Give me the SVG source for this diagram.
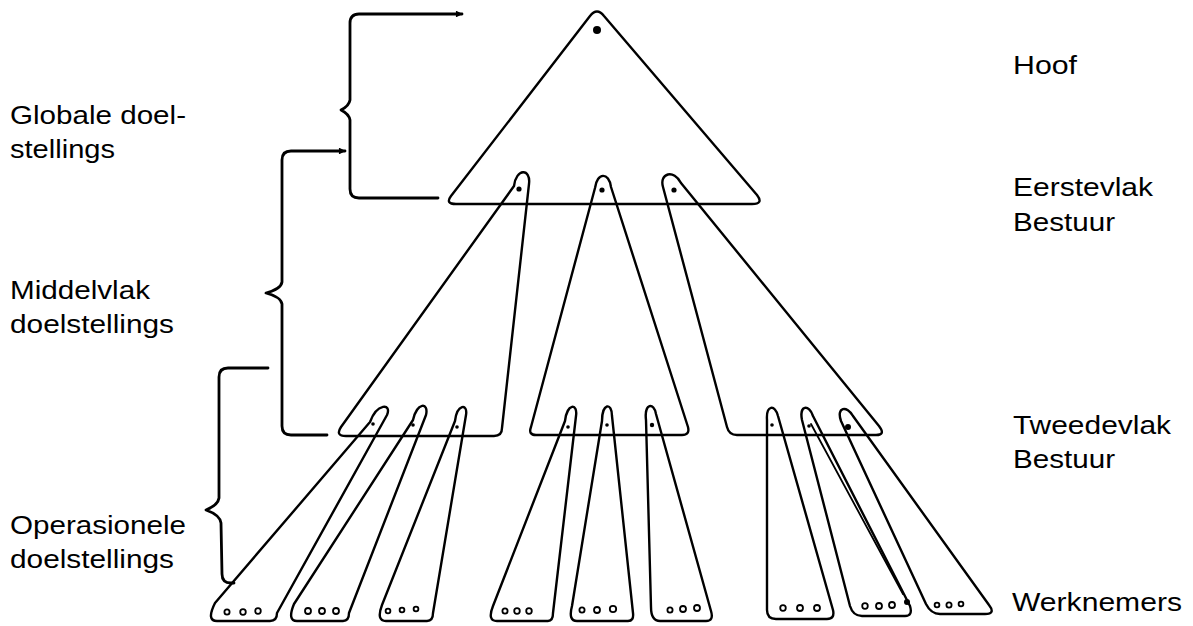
<svg xmlns="http://www.w3.org/2000/svg" width="1193" height="626" viewBox="0 0 1193 626">
<style>
.shape{fill:none;stroke:#000;stroke-width:2.4;stroke-linejoin:round;stroke-linecap:round}
.brace{fill:none;stroke:#000;stroke-width:2.8;stroke-linejoin:round;stroke-linecap:round}
.dot{fill:#000}
.ring{fill:none;stroke:#000;stroke-width:1.8}
.lbl{font-family:"Liberation Sans",Arial,sans-serif;font-size:25px;fill:#000}
</style>
<defs>
<marker id="ah" viewBox="0 0 10 10" refX="9" refY="5" markerWidth="4" markerHeight="2.4" orient="auto" markerUnits="strokeWidth">
<path d="M0,0 L10,5 L0,10 Z" fill="#000"/>
</marker>
</defs>
<rect width="1193" height="626" fill="#fff"/>

<g id="connectors">
<path class="brace" d="M438,198 L359,198 Q350,198 350,189 L350,120 Q349,114 341,110 Q349,106 350,100 L350,23 Q350,14 359,14 L462,14" marker-end="url(#ah)"/>
<path class="brace" d="M327,435 L291,435 Q282,435 282,426 L282,304 Q281,297 266,293 Q281,289 282,282 L282,160 Q282,151 291,151 L345,151" marker-end="url(#ah)"/>
<path class="brace" d="M268,368 L228,368 Q219,368 219,377 L219,498 Q218,505 206,510 Q220,515 221,523 L222,574 Q222,583 231,583 L234,583"/>
</g>

<g id="hoof">
<path class="shape" d="M590,16 L451,196 Q445,204 456,204 L752,204 Q764,204 757,195 L604,16 Q597,7 590,16 Z"/>
<circle class="dot" cx="597" cy="30" r="4"/>
</g>

<g id="eerstevlak-1">
<path class="shape" d="M514,186 L341,427 Q335,436 346,436 L494,436 Q502,436 502,428 L529,184 C531,168 516,168 514,186 Z"/>
<circle class="dot" cx="519" cy="189" r="2.6"/>
</g>
<g id="eerstevlak-2">
<path class="shape" d="M595,188 L531,427 Q528,435 536,435 L682,435 Q690,435 688,427 L611,187 C609,172 597,172 595,188 Z"/>
<circle class="dot" cx="602" cy="190" r="2.6"/>
</g>
<g id="eerstevlak-3">
<path class="shape" d="M663,187 L727,427 Q729,435 737,435 L876,435 Q886,435 879,426 L681,183 C674,169 659,173 663,187 Z"/>
<circle class="dot" cx="674" cy="190" r="2.6"/>
</g>

<g id="werknemer-1">
<path class="shape" d="M370,422 L215,603 Q206,621 217,621 L270,621 Q277,621 277,613 L387,415 C392,403 377,403 370,422 Z"/>
<circle class="dot" cx="373" cy="424" r="1.8"/>
<circle class="ring" cx="227" cy="612" r="2.6"/><circle class="ring" cx="243" cy="612" r="2.8"/><circle class="ring" cx="258" cy="611" r="2.8"/>
</g>
<g id="werknemer-2">
<path class="shape" d="M413,420 L294,604 Q287,621 297,621 L343,621 Q349,621 349,613 L426,415 C429,402 417,402 413,420 Z"/>
<circle class="dot" cx="413" cy="425" r="1.8"/>
<circle class="ring" cx="308" cy="611" r="3"/><circle class="ring" cx="322" cy="611" r="3"/><circle class="ring" cx="336" cy="611" r="3"/>
</g>
<g id="werknemer-3">
<path class="shape" d="M455,421 L382,605 Q376,621 386,621 L427,621 Q433,621 433,613 L466,415 C468,403 457,404 455,421 Z"/>
<circle class="dot" cx="457" cy="427" r="1.8"/>
<circle class="ring" cx="388" cy="611" r="2.4"/><circle class="ring" cx="402" cy="610" r="2.4"/><circle class="ring" cx="416" cy="609" r="2.4"/>
</g>
<g id="werknemer-4">
<path class="shape" d="M565,421 L493,606 Q487,621 497,621 L548,621 Q553,621 553,613 L576,416 C578,403 567,403 565,421 Z"/>
<circle class="dot" cx="568" cy="427" r="1.8"/>
<circle class="ring" cx="505" cy="611" r="2.6"/><circle class="ring" cx="517" cy="611" r="2.8"/><circle class="ring" cx="529" cy="611" r="2.8"/>
</g>
<g id="werknemer-5">
<path class="shape" d="M602,421 L572,606 Q568,621 577,621 L628,621 Q634,621 633,613 L612,416 C612,402 602,403 602,421 Z"/>
<circle class="dot" cx="607" cy="425" r="1.8"/>
<circle class="ring" cx="582" cy="610" r="2.6"/><circle class="ring" cx="597" cy="610" r="3"/><circle class="ring" cx="613" cy="609" r="3.2"/>
</g>
<g id="werknemer-6">
<path class="shape" d="M646,420 L651,607 Q651,621 660,621 L706,621 Q714,621 711,611 L656,414 C654,402 644,403 646,420 Z"/>
<circle class="dot" cx="652" cy="425" r="2.2"/>
<circle class="ring" cx="670" cy="610" r="2.6"/><circle class="ring" cx="683" cy="609" r="3"/><circle class="ring" cx="697" cy="608" r="3"/>
</g>
<g id="werknemer-7">
<path class="shape" d="M767,420 L767,610 Q767,619 776,619 L827,619 Q835,619 833,610 L778,416 C775,404 766,405 767,420 Z"/>
<circle class="dot" cx="772" cy="425" r="1.8"/>
<circle class="ring" cx="783" cy="608" r="2.8"/><circle class="ring" cx="800" cy="608" r="3"/><circle class="ring" cx="817" cy="608" r="3"/>
</g>
<g id="werknemer-8">
<path class="shape" d="M802,420 L850,606 Q853,616 862,616 L905,616 Q913,616 910,606 L813,416 C809,404 799,405 802,420 Z"/>
<path class="shape" d="M811,424 L903,594" style="stroke-width:1.8"/>
<circle class="dot" cx="809" cy="426" r="1.8"/>
<circle class="ring" cx="865" cy="606" r="2.8"/><circle class="ring" cx="879" cy="606" r="3"/><circle class="ring" cx="892" cy="605" r="3"/><circle class="dot" cx="907" cy="602" r="3"/>
</g>
<g id="werknemer-9">
<path class="shape" d="M841,421 L926,604 Q931,614 940,614 L985,614 Q996,614 989,605 L853,416 C847,405 836,407 841,421 Z"/>
<circle class="dot" cx="848" cy="427" r="3"/>
<circle class="ring" cx="937" cy="605" r="2.4"/><circle class="ring" cx="949" cy="605" r="2.6"/><circle class="ring" cx="961" cy="604" r="2.4"/>
</g>

<g id="labels">
<text class="lbl" x="10" y="124" textLength="176" lengthAdjust="spacingAndGlyphs">Globale doel-</text>
<text class="lbl" x="10" y="158" textLength="105" lengthAdjust="spacingAndGlyphs">stellings</text>
<text class="lbl" x="10" y="299" textLength="140" lengthAdjust="spacingAndGlyphs">Middelvlak</text>
<text class="lbl" x="10" y="333" textLength="164" lengthAdjust="spacingAndGlyphs">doelstellings</text>
<text class="lbl" x="10" y="534" textLength="176" lengthAdjust="spacingAndGlyphs">Operasionele</text>
<text class="lbl" x="10" y="568" textLength="164" lengthAdjust="spacingAndGlyphs">doelstellings</text>
<text class="lbl" x="1013" y="74" textLength="64" lengthAdjust="spacingAndGlyphs">Hoof</text>
<text class="lbl" x="1013" y="196" textLength="140" lengthAdjust="spacingAndGlyphs">Eerstevlak</text>
<text class="lbl" x="1013" y="231" textLength="102" lengthAdjust="spacingAndGlyphs">Bestuur</text>
<text class="lbl" x="1013" y="434" textLength="158" lengthAdjust="spacingAndGlyphs">Tweedevlak</text>
<text class="lbl" x="1013" y="468" textLength="102" lengthAdjust="spacingAndGlyphs">Bestuur</text>
<text class="lbl" x="1012" y="611" textLength="170" lengthAdjust="spacingAndGlyphs">Werknemers</text>
</g>
</svg>
